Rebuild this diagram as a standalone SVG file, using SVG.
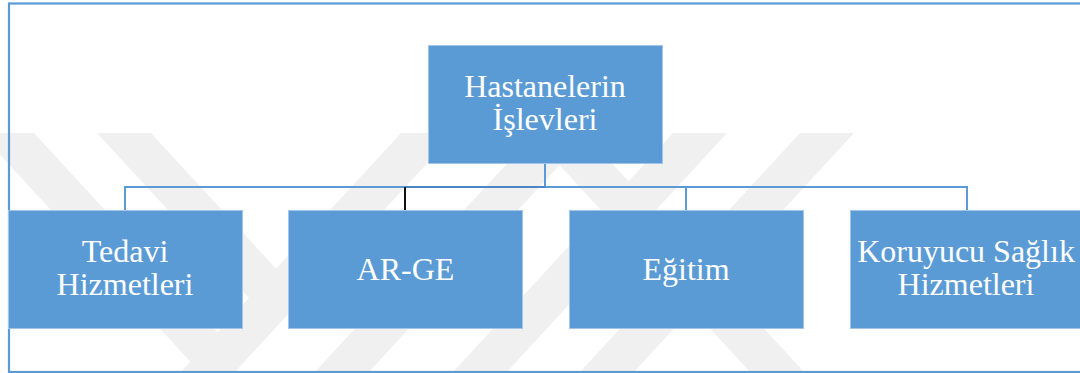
<svg xmlns="http://www.w3.org/2000/svg" width="1080" height="373" viewBox="0 0 1080 373">
  <style>
    .wm { fill: #f0f0f0; }
    .box { fill: #5b9bd5; stroke: #a3c5e8; stroke-width: 1; }
    .lbl { font-family: "Liberation Serif", "Times New Roman", serif; font-size: 32px; fill: #ffffff; text-anchor: middle; }
    .link { stroke: #5b9bd5; stroke-width: 2; fill: none; }
  </style>

  <rect width="1080" height="373" fill="#ffffff"/>

  <!-- faint background emblem -->
  <g id="watermark">
    <polygon class="wm" points="-20,133 34,133 244.8,361.7 190.4,361.7"/>
    <polygon class="wm" points="97,133 151,133 303,298 249,298"/>
    <polygon class="wm" points="180,373 234,373 455,133 401,133"/>
    <polygon class="wm" points="314,373 368,373 589,133 535,133"/>
    <polygon class="wm" points="452,373 506,373 727,133 673,133"/>
    <polygon class="wm" points="579,373 633,373 854,133 800,133"/>
    <polygon class="wm" points="530,133 584,133 805,373 751,373"/>
  </g>

  <!-- outer frame -->
  <rect x="9" y="3.5" width="1090" height="368.5" fill="none" stroke="#5b9bd5" stroke-width="2.2"/>

  <g id="connectors">
    <line class="link" x1="545" y1="164" x2="545" y2="187"/>
    <line class="link" x1="124" y1="187" x2="968" y2="187"/>
    <line x1="405" y1="187" x2="545" y2="187" stroke="#4a86c5" stroke-width="2"/>
    <line class="link" x1="125" y1="187" x2="125" y2="211"/>
    <line x1="405" y1="187" x2="405" y2="211" stroke="#111111" stroke-width="2"/>
    <line class="link" x1="686" y1="187" x2="686" y2="211"/>
    <line class="link" x1="967" y1="187" x2="967" y2="211"/>
  </g>

  <g id="node-hastanelerin">
    <rect class="box" x="428.5" y="45.5" width="234" height="118"/>
    <text class="lbl" x="545" y="97">Hastanelerin</text>
    <text class="lbl" x="545" y="130">İşlevleri</text>
  </g>

  <g id="node-tedavi">
    <rect class="box" x="8.5" y="210.5" width="234" height="118"/>
    <text class="lbl" x="125" y="262">Tedavi</text>
    <text class="lbl" x="125" y="295">Hizmetleri</text>
  </g>

  <g id="node-arge">
    <rect class="box" x="288.5" y="210.5" width="234" height="118"/>
    <text class="lbl" x="405.5" y="280">AR-GE</text>
  </g>

  <g id="node-egitim">
    <rect class="box" x="569.5" y="210.5" width="234" height="118"/>
    <text class="lbl" x="686" y="280">Eğitim</text>
  </g>

  <g id="node-koruyucu">
    <rect class="box" x="850.5" y="210.5" width="234" height="118"/>
    <text class="lbl" x="966" y="262">Koruyucu Sağlık</text>
    <text class="lbl" x="966" y="295">Hizmetleri</text>
  </g>
</svg>
